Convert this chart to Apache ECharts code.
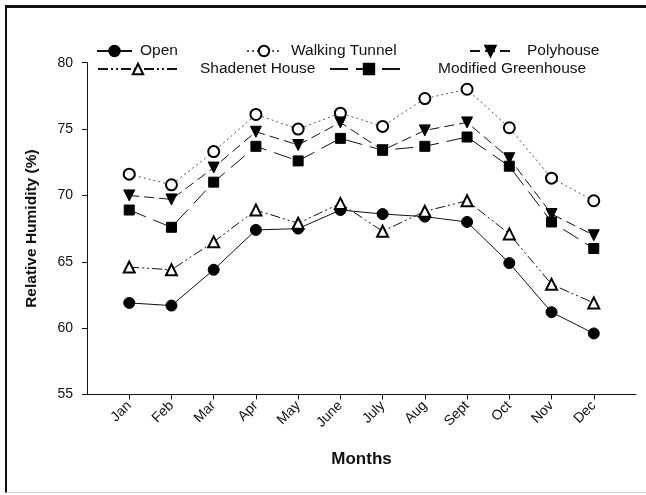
<!DOCTYPE html>
<html>
<head>
<meta charset="utf-8">
<script src="https://cdn.jsdelivr.net/npm/echarts@6/dist/echarts.min.js"></script>
<style>
  html, body { margin: 0; padding: 0; background: #fff; }
  #frame { position: absolute; left: 5px; top: 5px; width: 641px; height: 488px;
           border-left: 2px solid #111; border-top: 3px solid #111; border-bottom: 1px solid #ccc; box-sizing: border-box; }
  #main { position: absolute; left: 0; top: 0; width: 646px; height: 495px; }
</style>
</head>
<body>
<div id="frame"></div>
<div id="main"></div>
<script>
// months on the x axis (blank slots pad the ends like the original plot)
var months = ['Jan', 'Feb', 'Mar', 'Apr', 'May', 'June', 'July', 'Aug', 'Sept', 'Oct', 'Nov', 'Dec'];
var yTicks = [55, 60, 65, 70, 75, 80];

// relative humidity (%)
var open = [61.9, 61.7, 64.4, 67.4, 67.5, 68.9, 68.6, 68.4, 68.0, 64.9, 61.2, 59.6];
var walkingTunnel = [71.6, 70.8, 73.3, 76.1, 75.0, 76.2, 75.2, 77.3, 78.0, 75.1, 71.3, 69.6];
var polyhouse = [70.0, 69.7, 72.1, 74.8, 73.8, 75.5, 73.4, 74.9, 75.5, 72.8, 68.6, 67.0];
var shadenet = [64.6, 64.4, 66.5, 68.9, 67.9, 69.4, 67.3, 68.8, 69.6, 67.1, 63.3, 61.9];
var modifiedGH = [68.9, 67.6, 71.0, 73.7, 72.6, 74.3, 73.4, 73.7, 74.4, 72.2, 68.0, 66.0];

var FONT = '"Liberation Sans", Arial, Helvetica, sans-serif';
var categories = [' '].concat(months, ['  ']);

function pairs(vals) {
  return months.map(function (m, i) { return [m, vals[i]]; });
}

function legendAt(name, left, top, width, pad) {
  return {
    data: [name],
    left: left,
    top: top,
    padding: 0,
    itemWidth: width,
    itemHeight: 13,
    selectedMode: false,
    textStyle: { fontFamily: FONT, fontSize: 15.5, color: '#111', padding: [0, 0, 0, pad] }
  };
}

function line(name, vals, symbol, size, dash, color, extra) {
  var s = {
    name: name,
    type: 'line',
    data: pairs(vals),
    symbol: symbol,
    symbolSize: size,
    showAllSymbol: true,
    lineStyle: { color: color || '#111', width: 1, type: dash },
    itemStyle: { color: '#000', borderColor: '#000', borderWidth: 1 },
    emphasis: { disabled: true },
    animation: false
  };
  if (extra) for (var k in extra) s[k] = extra[k];
  return s;
}

var chart = echarts.init(document.getElementById('main'), null, { renderer: 'canvas' });

var option = {
  backgroundColor: 'transparent',
  legend: [
    legendAt('Open', 96, 43, 35, 3),
    legendAt('Walking Tunnel', 246, 43, 34, 5),
    legendAt('Polyhouse', 469, 43, 41, 11),
    legendAt('Shadenet House', 97, 61, 80, 17),
    legendAt('Modified Greenhouse', 329, 61, 78, 25)
  ],
  grid: { left: 87, right: 10, top: 62.7, bottom: 100.5 },
  xAxis: {
    type: 'category',
    data: categories,
    boundaryGap: false,
    name: 'Months',
    nameLocation: 'middle',
    nameGap: 56,
    nameTextStyle: { fontFamily: FONT, fontSize: 17, fontWeight: 'bold', color: '#111' },
    axisLine: { lineStyle: { color: '#111', width: 1 } },
    axisTick: {
      length: 5,
      lineStyle: { color: '#111' },
      interval: function (idx) { return idx > 0 && idx < categories.length - 1; }
    },
    axisLabel: {
      interval: 0,
      rotate: 45,
      margin: 9,
      fontFamily: FONT,
      fontSize: 14,
      color: '#111'
    },
    splitLine: { show: false }
  },
  yAxis: {
    type: 'value',
    min: yTicks[0],
    max: yTicks[yTicks.length - 1],
    interval: 5,
    name: 'Relative Humidity (%)',
    nameLocation: 'middle',
    nameGap: 47,
    nameTextStyle: { fontFamily: FONT, fontSize: 15.5, fontWeight: 'bold', color: '#111' },
    axisLine: { show: true, lineStyle: { color: '#111', width: 1 } },
    axisTick: { show: true, length: 5, lineStyle: { color: '#111' } },
    axisLabel: { margin: 14, fontFamily: FONT, fontSize: 14, color: '#111' },
    splitLine: { show: false }
  },
  series: [
    line('Open', open, 'circle', 11, 'solid'),
    line('Walking Tunnel', walkingTunnel, 'emptyCircle', 11, [2, 3], '#555'),
    line('Polyhouse', polyhouse, 'triangle', 11, [10, 5], '#111', { symbolRotate: 180 }),
    line('Shadenet House', shadenet, 'emptyTriangle', 11, [10, 3, 2, 3, 2, 3]),
    line('Modified Greenhouse', modifiedGH, 'rect', 10, [18, 8])
  ]
};

chart.setOption(option);
</script>
</body>
</html>
